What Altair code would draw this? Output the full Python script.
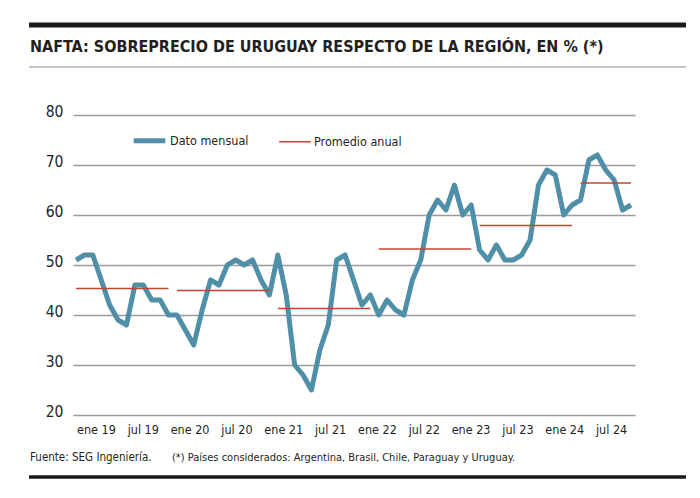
import altair as alt
import pandas as pd

# ---------------- data ----------------
title_text = ["NAFTA: SOBREPRECIO DE URUGUAY RESPECTO DE LA REGIÓN, EN % (*)"]
source_text = ["Fuente: SEG Ingeniería."]
note_text = ["(*) Países considerados: Argentina, Brasil, Chile, Paraguay y Uruguay."]

series_names = ["Dato mensual", "Promedio anual"]

# monthly values, Jan 2019 .. Jul 2024
monthly = [51, 52, 52, 47, 42, 39, 38, 46, 46, 43, 43, 40,
           40, 37, 34, 41, 47, 46, 50, 51, 50, 51, 47, 44,
           52, 44, 30, 28, 25, 33, 38, 51, 52, 47, 42, 44,
           40, 43, 41, 40, 47, 51, 60, 63, 61, 66, 60, 62,
           53, 51, 54, 51, 51, 52, 55, 66, 69, 68, 60, 62,
           63, 71, 72, 69, 67, 61, 62]

years = [2019, 2020, 2021, 2022, 2023, 2024]
annual_avg = [45.3, 44.9, 41.3, 53.2, 57.9, 66.4]

x_labels = ["ene 19", "jul 19", "ene 20", "jul 20", "ene 21", "jul 21",
            "ene 22", "jul 22", "ene 23", "jul 23", "ene 24", "jul 24"]
y_ticks = [20, 30, 40, 50, 60, 70, 80]

# ---------------- tables ----------------
n = len(monthly)
df = pd.DataFrame({"i": list(range(n)), "v": monthly, "s": series_names[0]})
ann = pd.DataFrame({"year": years, "avg": annual_avg, "s": series_names[1]})
ann["start"] = (ann["year"] - years[0]) * 12
ann["end"] = (ann["start"] + 11).clip(upper=n - 1)
labs = pd.DataFrame({"lab": x_labels})

FONT = "DejaVu Sans Condensed, Roboto, sans-serif"
TXT = "#231f20"
BLUE = "#508fa8"
RED = "#c4442f"
W, H = 562, 300

xs = alt.Scale(domain=[-0.36, n - 1 + 0.48], nice=False, zero=False)
ys = alt.Scale(domain=[20, 80], nice=False, zero=False)
cs = alt.Scale(domain=series_names, range=[BLUE, RED])
ss = alt.Scale(domain=series_names, range=[5, 1.5])

leg = alt.Legend(orient="none", legendX=58, legendY=7, direction="horizontal",
                 title=None, symbolType="stroke", symbolSize=1000,
                 labelFont=FONT, labelFontSize=12.5, labelColor=TXT,
                 labelOffset=2, columnPadding=27, padding=0)

line = alt.Chart(df).mark_line(strokeJoin="round").encode(
    x=alt.X("i:Q", scale=xs, axis=None),
    y=alt.Y("v:Q", scale=ys,
            axis=alt.Axis(values=y_ticks, grid=True, ticks=False, domain=False,
                          title=None, labelFont=FONT, labelFontSize=15.5,
                          labelColor=TXT, labelPadding=10, labelOffset=-4,
                          gridColor="#9b9b9b", gridWidth=1.5)),
    color=alt.Color("s:N", scale=cs, legend=leg),
    strokeWidth=alt.StrokeWidth("s:N", scale=ss, legend=leg),
)

rules = alt.Chart(ann).mark_rule().encode(
    x=alt.X("start:Q", scale=xs, axis=None),
    x2="end:Q",
    y=alt.Y("avg:Q", scale=ys),
    color=alt.Color("s:N", scale=cs, legend=leg),
    strokeWidth=alt.StrokeWidth("s:N", scale=ss, legend=leg),
)

xaxis = alt.Chart(labs).mark_point(opacity=0).encode(
    x=alt.X("lab:N", sort=None,
            scale=alt.Scale(type="band", paddingInner=0, paddingOuter=0),
            axis=alt.Axis(orient="bottom", ticks=False, domain=False, grid=False,
                          labelAngle=0, title=None, labelFont=FONT,
                          labelFontSize=12.5, labelColor=TXT, labelPadding=8)),
)

title = alt.Chart(pd.DataFrame({"t": title_text})).mark_text(
    font=FONT, fontWeight="bold", fontSize=16, color=TXT, align="left",
    baseline="middle").encode(text="t:N", x=alt.value(-43), y=alt.value(-68))

source = alt.Chart(pd.DataFrame({"t": source_text})).mark_text(
    font=FONT, fontSize=11.5, color=TXT, align="left",
    baseline="middle").encode(text="t:N", x=alt.value(-43), y=alt.value(343))

note = alt.Chart(pd.DataFrame({"t": note_text})).mark_text(
    font=FONT, fontSize=11, color=TXT, align="left",
    baseline="middle").encode(text="t:N", x=alt.value(99), y=alt.value(343))

one = pd.DataFrame({"k": [0]})
top_bar = alt.Chart(one).mark_rule(color="#1a1a1a", strokeWidth=5).encode(
    x=alt.value(-44), x2=alt.value(613), y=alt.value(-90))
sub_line = alt.Chart(one).mark_rule(color="#8a8a8a", strokeWidth=1).encode(
    x=alt.value(-44), x2=alt.value(613), y=alt.value(-48))
bot_bar = alt.Chart(one).mark_rule(color="#1a1a1a", strokeWidth=3.5).encode(
    x=alt.value(-44), x2=alt.value(613), y=alt.value(362))

chart = alt.layer(
    line, rules, xaxis, title, source, note, top_bar, sub_line, bot_bar
).resolve_scale(x="independent").properties(
    width=W, height=H,
    autosize=alt.AutoSizeParams(type="none"),
    padding={"left": 65, "top": 107, "right": 57, "bottom": 75},
    background="white",
).configure_view(stroke=None)

chart.save("out.html", embed_options={"renderer": "svg", "actions": False})
